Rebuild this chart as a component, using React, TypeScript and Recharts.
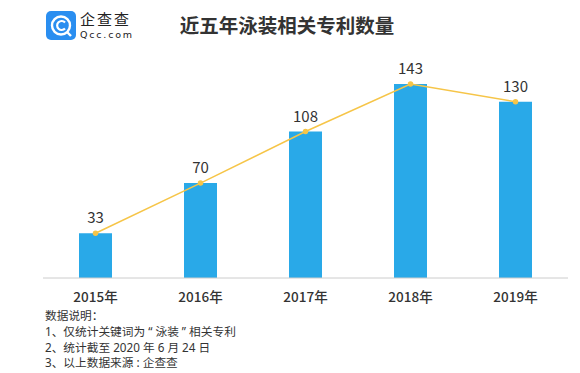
import React from "react";
import { ComposedChart, Bar, Line, XAxis, YAxis, LabelList } from "recharts";

const years = ["2015年", "2016年", "2017年", "2018年", "2019年"];
const patents = [33, 70, 108, 143, 130];
const notes = [
  "数据说明：",
  "1、仅统计关键词为 \u201C 泳装 \u201D 相关专利",
  "2、统计截至 2020 年 6 月 24 日",
  "3、以上数据来源 : 企查查",
];

const data = years.map((y, i) => ({ year: y, value: patents[i] }));
const FONT = '"Noto Sans CJK SC", "Noto Sans", sans-serif';
const NOTE_FONT = '"Noto Sans", "Noto Sans CJK SC", sans-serif';

export default function App() {
  return (
    <div style={{ position: "absolute", left: 0, top: 0, width: 580, height: 373, background: "#fff", fontFamily: FONT }}>
      <svg style={{ position: "absolute", left: 46, top: 11 }} width={30} height={29} viewBox="0 0 30 29">
        <rect x={0} y={0} width={30} height={29} rx={5} fill="#2a8ef0" />
        <circle cx={15} cy={14.5} r={9} fill="none" stroke="#fff" strokeWidth={2.4} />
        <path d="M19 11.5 A4.5 4.5 0 1 0 19 17.5" fill="none" stroke="#fff" strokeWidth={2.2} />
        <line x1={21} y1={21} x2={25} y2={25} stroke="#fff" strokeWidth={2.4} />
      </svg>
      <div style={{ position: "absolute", left: 80, top: 11, fontSize: 15, color: "#222", letterSpacing: 2, lineHeight: "16px" }}>企查查</div>
      <div style={{ position: "absolute", left: 80, top: 29, fontSize: 9.5, color: "#222", letterSpacing: 1.8, lineHeight: "11px", fontFamily: '"DejaVu Sans", sans-serif' }}>Qcc.com</div>
      <div style={{ position: "absolute", left: 0, width: 574, top: 12, textAlign: "center", fontSize: 19.5, fontWeight: 700, color: "#333", lineHeight: "26px" }}>
        近五年泳装相关专利数量
      </div>
      <ComposedChart width={580} height={373} data={data} margin={{ top: 61, right: 12, left: 43, bottom: 65 }}>
        <YAxis hide domain={[0, 160]} />
        <XAxis
          dataKey="year"
          height={30}
          tickLine={false}
          axisLine={{ stroke: "#ccc" }}
          tick={{ fontSize: 13.5, fill: "#333", fontFamily: FONT, fontWeight: 500 }}
          tickMargin={8}
        />
        <Bar dataKey="value" barSize={33} fill="#29a9e8" isAnimationActive={false}>
          <LabelList dataKey="value" position="top" offset={10} style={{ fontSize: 15, fill: "#333", fontFamily: FONT }} />
        </Bar>
        <Line
          dataKey="value"
          type="linear"
          stroke="#f6c548"
          strokeWidth={1.5}
          dot={{ r: 2, fill: "#f6c548", stroke: "#f6c548" }}
          isAnimationActive={false}
        />
      </ComposedChart>
      {notes.map((t, i) => (
        <div key={i} style={{ position: "absolute", left: 45, top: 307 + i * 15.8, fontSize: 11.7, color: "#333", lineHeight: "16px", whiteSpace: "pre", fontFamily: NOTE_FONT }}>
          {t}
        </div>
      ))}
    </div>
  );
}
